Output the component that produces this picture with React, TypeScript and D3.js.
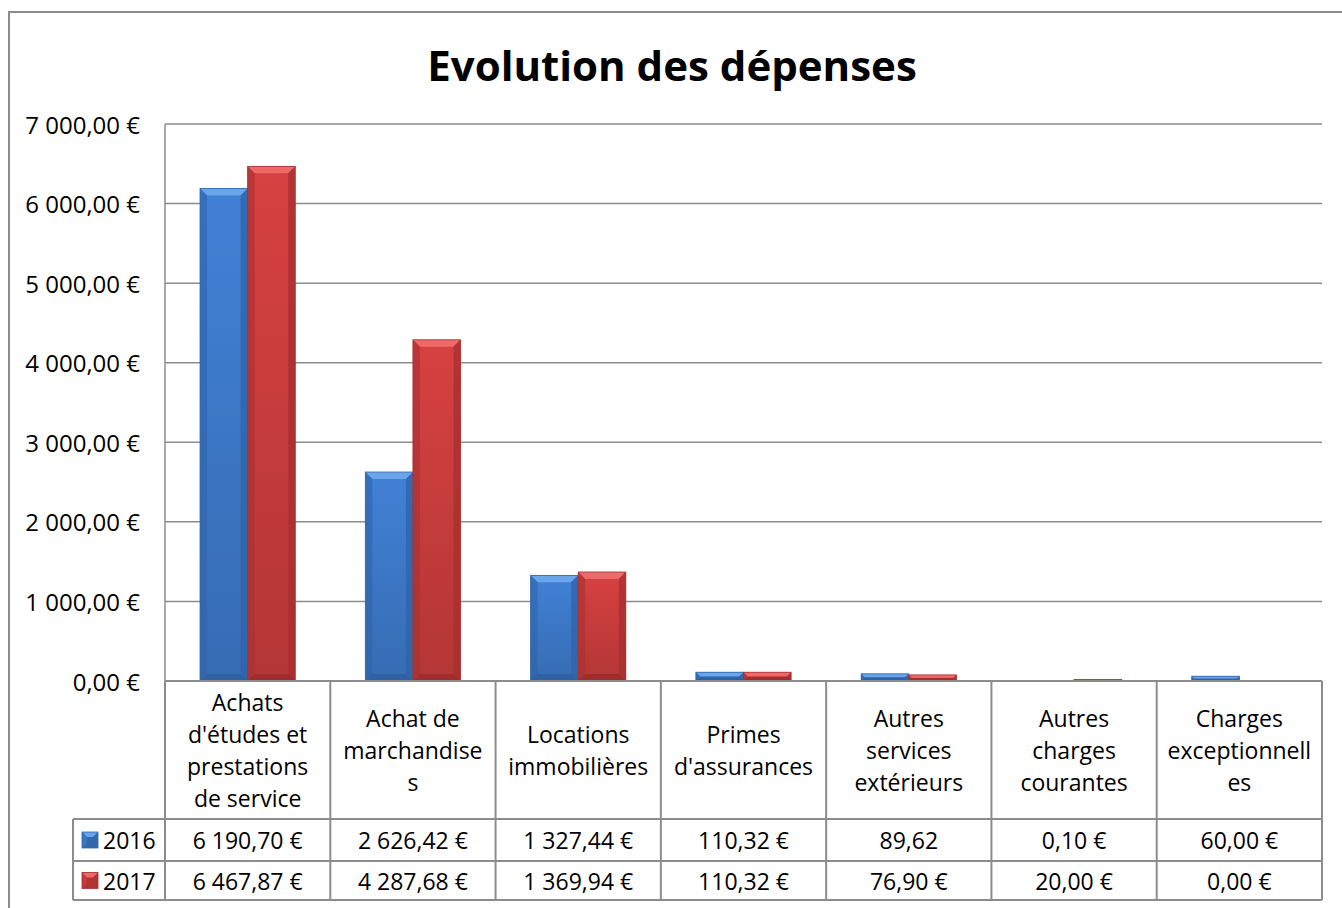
import React from "react";
import * as d3 from "d3";

const categories = [
  "Achats d'études et prestations de service",
  "Achat de marchandises",
  "Locations immobilières",
  "Primes d'assurances",
  "Autres services extérieurs",
  "Autres charges courantes",
  "Charges exceptionnelles",
];
const categoryLines = [
  ["Achats", "d'études et", "prestations", "de service"],
  ["Achat de", "marchandise", "s"],
  ["Locations", "immobilières"],
  ["Primes", "d'assurances"],
  ["Autres", "services", "extérieurs"],
  ["Autres", "charges", "courantes"],
  ["Charges", "exceptionnell", "es"],
];
const seriesNames = ["2016", "2017"];
const values2016 = [6190.7, 2626.42, 1327.44, 110.32, 89.62, 0.1, 60.0];
const values2017 = [6467.87, 4287.68, 1369.94, 110.32, 76.9, 20.0, 0.0];
const labels2016 = ["6 190,70 €", "2 626,42 €", "1 327,44 €", "110,32 €", "89,62", "0,10 €", "60,00 €"];
const labels2017 = ["6 467,87 €", "4 287,68 €", "1 369,94 €", "110,32 €", "76,90 €", "20,00 €", "0,00 €"];
const yTicks = [0, 1000, 2000, 3000, 4000, 5000, 6000, 7000];
const yTickLabels = ["0,00 €", "1 000,00 €", "2 000,00 €", "3 000,00 €", "4 000,00 €", "5 000,00 €", "6 000,00 €", "7 000,00 €"];

const W = 1342;
const H = 908;
const FONT = "'Open Sans', sans-serif";
const plot = { left: 165, right: 1322, top: 124, bottom: 681 };
const tableRows = { header: 819, r1: 861, r2: 900 };
const legendLeft = 73;

const palette = {
  "2016": { body: "#3b76c4", top: "#6aa5ea", side: "#2f64a8", bottom: "#2c5c9c", dark: "#3468ad" },
  "2017": { body: "#c53b3b", top: "#ec6a6a", side: "#a83030", bottom: "#962a2a", dark: "#b03434" },
};

function Bar({ x, y, w, h, s }: { x: number; y: number; w: number; h: number; s: string }) {
  if (h <= 0) return null;
  const c = (palette as any)[s];
  const b = Math.min(7, h / 2.2, w / 4);
  return (
    <g>
      <rect x={x} y={y} width={w} height={h} fill={`url(#grad${s})`} />
      <polygon points={`${x},${y} ${x + w},${y} ${x + w - b},${y + b} ${x + b},${y + b}`} fill={c.top} />
      <polygon points={`${x},${y} ${x + b},${y + b} ${x + b},${y + h - b} ${x},${y + h}`} fill={c.side} opacity={0.6} />
      <polygon points={`${x + w},${y} ${x + w - b},${y + b} ${x + w - b},${y + h - b} ${x + w},${y + h}`} fill={c.side} opacity={0.8} />
      <polygon points={`${x},${y + h} ${x + b},${y + h - b} ${x + w - b},${y + h - b} ${x + w},${y + h}`} fill={c.bottom} opacity={0.7} />
      <rect x={x} y={y} width={w} height={h} fill="none" stroke={c.side} strokeWidth={0.8} />
    </g>
  );
}

function LegendKey({ x, y, s }: { x: number; y: number; s: string }) {
  const c = (palette as any)[s];
  const size = 16;
  const b = 5;
  return (
    <g>
      <rect x={x} y={y} width={size} height={size} fill={c.dark} />
      <polygon points={`${x},${y} ${x + size},${y} ${x + size - b},${y + b} ${x + b},${y + b}`} fill={c.top} />
      <polygon points={`${x},${y} ${x + b},${y + b} ${x + b},${y + size - b} ${x},${y + size}`} fill={c.body} />
      <rect x={x} y={y} width={size} height={size} fill="none" stroke={c.side} strokeWidth={0.8} />
    </g>
  );
}

export default function App() {
  const x = d3.scaleBand<string>().domain(categories).range([plot.left, plot.right]).padding(0);
  const bw = x.bandwidth();
  const x1 = d3.scaleBand<string>().domain(seriesNames).range([bw * 0.212, bw * 0.788]).padding(0);
  const y = d3.scaleLinear().domain([0, 7000]).range([plot.bottom, plot.top]);
  const series = [
    { name: "2016", values: values2016, labels: labels2016 },
    { name: "2017", values: values2017, labels: labels2017 },
  ];
  const lineH = 32;
  const headerMid = (plot.bottom + tableRows.header) / 2;
  const rowMids = [(tableRows.header + tableRows.r1) / 2, (tableRows.r1 + tableRows.r2) / 2];
  const fs = 23;

  return (
    <div style={{ position: "absolute", left: 0, top: 0 }}>
      <svg width={W} height={H} style={{ display: "block", background: "#fff" }} fontFamily={FONT}>
        <defs>
          {seriesNames.map((s) => {
            const c = (palette as any)[s];
            return (
              <linearGradient key={s} id={`grad${s}`} x1="0" y1="0" x2="0" y2="1">
                <stop offset="0" stopColor={d3.color(c.body)!.brighter(0.25).toString()} />
                <stop offset="1" stopColor={d3.color(c.body)!.darker(0.25).toString()} />
              </linearGradient>
            );
          })}
        </defs>
        <rect x={9} y={12} width={W + 20} height={H + 20} fill="#fff" stroke="#8c8c8c" strokeWidth={2} />
        <text x={W / 2 + 1} y={81} textAnchor="middle" fontSize={42} fontWeight="bold" fill="#000">
          Evolution des dépenses
        </text>
        {/* gridlines */}
        {yTicks.map((t, i) => (
          <g key={t}>
            <line x1={plot.left} x2={plot.right} y1={y(t)} y2={y(t)} stroke="#8c8c8c" strokeWidth={1.5} />
            <text x={140} y={y(t)} textAnchor="end" dominantBaseline="central" fontSize={24} fill="#000">
              {yTickLabels[i]}
            </text>
          </g>
        ))}
        <line x1={plot.left} x2={plot.left} y1={plot.top} y2={plot.bottom} stroke="#8c8c8c" strokeWidth={1.5} />
        {/* bars */}
        {categories.map((cat, ci) => (
          <g key={cat}>
            {series.map((s) => {
              const v = s.values[ci];
              const bx = (x(cat) as number) + (x1(s.name) as number);
              return <Bar key={s.name} x={bx} y={y(v)} w={x1.bandwidth()} h={y(0) - y(v)} s={s.name} />;
            })}
          </g>
        ))}
        {/* data table */}
        <g stroke="#8c8c8c" strokeWidth={2}>
          <line x1={plot.left} x2={plot.right} y1={plot.bottom} y2={plot.bottom} />
          {[tableRows.header, tableRows.r1, tableRows.r2].map((yy) => (
            <line key={yy} x1={legendLeft} x2={plot.right} y1={yy} y2={yy} />
          ))}
          <line x1={legendLeft} x2={legendLeft} y1={tableRows.header} y2={tableRows.r2} />
          {categories.map((cat) => (
            <line key={cat} x1={x(cat)} x2={x(cat)} y1={plot.bottom} y2={tableRows.r2} />
          ))}
          <line x1={plot.right} x2={plot.right} y1={plot.bottom} y2={tableRows.r2} />
        </g>
        {categories.map((cat, ci) => {
          const lines = categoryLines[ci];
          const cx = (x(cat) as number) + bw / 2;
          return (
            <g key={cat}>
              {lines.map((ln, li) => (
                <text
                  key={li}
                  x={cx}
                  y={headerMid + (li - (lines.length - 1) / 2) * lineH}
                  textAnchor="middle"
                  dominantBaseline="central"
                  fontSize={fs}
                  fill="#000"
                >
                  {ln}
                </text>
              ))}
              {series.map((s, si) => (
                <text
                  key={s.name}
                  x={cx}
                  y={rowMids[si]}
                  textAnchor="middle"
                  dominantBaseline="central"
                  fontSize={fs}
                  fill="#000"
                >
                  {s.labels[ci]}
                </text>
              ))}
            </g>
          );
        })}
        {series.map((s, si) => (
          <g key={s.name}>
            <LegendKey x={82} y={rowMids[si] - 8} s={s.name} />
            <text x={103} y={rowMids[si]} dominantBaseline="central" fontSize={fs} fill="#000">
              {s.name}
            </text>
          </g>
        ))}
      </svg>
    </div>
  );
}
